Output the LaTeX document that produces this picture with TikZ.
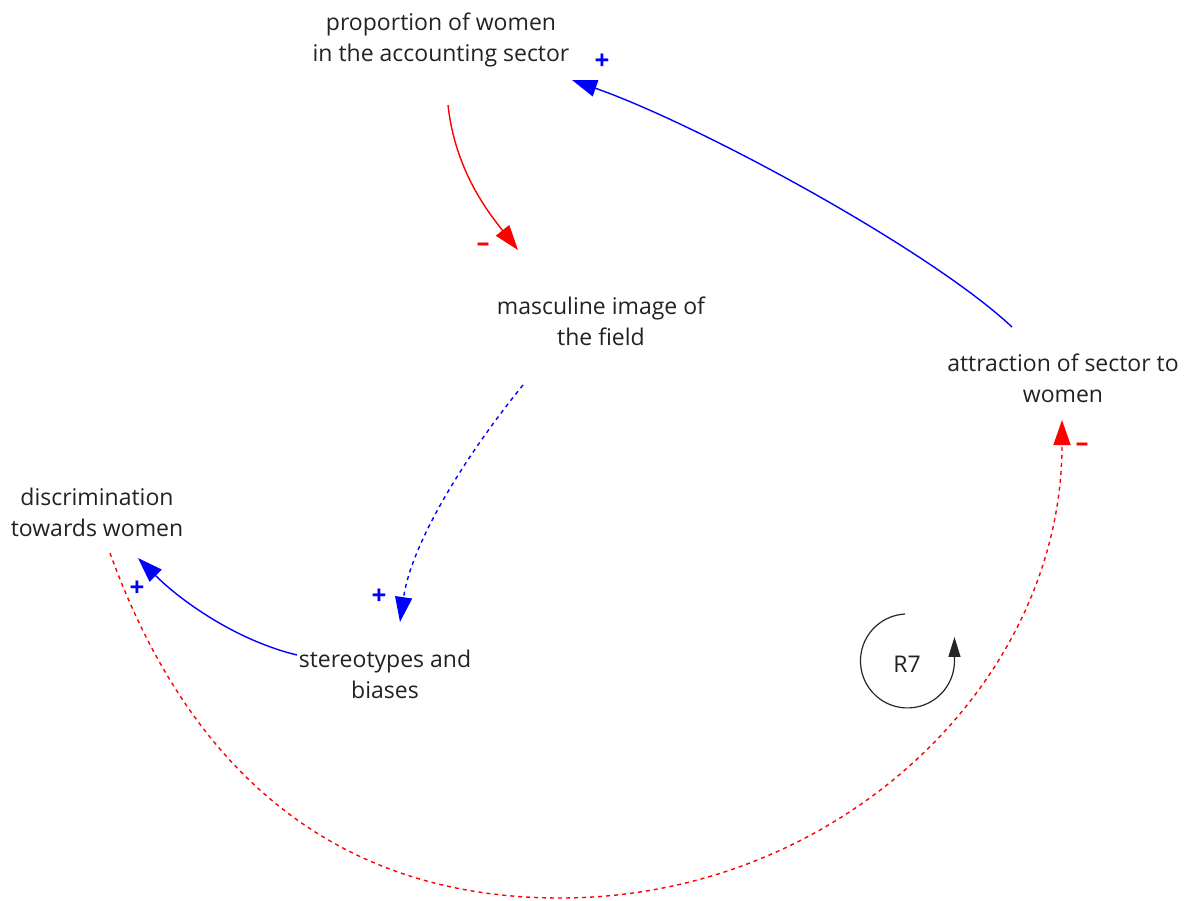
\documentclass[tikz,border=0pt]{standalone}
\usepackage{fontspec}
\setmainfont{Open Sans}
\usetikzlibrary{arrows.meta}
\definecolor{txt}{HTML}{222222}
\definecolor{pblue}{HTML}{0000FF}
\definecolor{pred}{HTML}{FF0000}
\tikzset{
  var/.style={align=center,text=txt,font=\fontsize{23}{31}\selectfont,inner sep=0pt},
  link/.style={line width=1.4pt,-{Triangle[length=25pt,width=17pt]}},
  poslink/.style={link,pblue},
  neglink/.style={link,pred},
  dashedlink/.style={dash pattern=on 4pt off 4pt},
  plussign/.style={text=pblue,font=\fontsize{26}{26}\selectfont\bfseries,inner sep=0pt},
  minussign/.style={text=pred,font=\fontsize{26}{26}\selectfont\bfseries,inner sep=0pt},
}
\begin{document}
\begin{tikzpicture}[x=1pt,y=-1pt]
\useasboundingbox (0,0) rectangle (1186,900);
\node[var] (prop) at (441,40) {proportion of women\\in the accounting sector};
\node[var] (masc) at (601,321) {masculine image of\\the field};
\node[var] (attr) at (1063,378) {attraction of sector to\\women};
\node[var] (disc) at (97,512) {discrimination\\towards women};
\node[var] (ster) at (385,674) {stereotypes and\\biases};
\node[var] (r7) at (907,664) {R7};

% proportion -> masculine
\draw[neglink] ([shift={(7,65)}]prop.center) .. controls (455,170) and (488,212) .. ([shift={(-83,-71)}]masc.center);
\node[minussign] (m1) at (483,247) {–};
% masculine -> stereotypes
\draw[poslink,dashedlink] ([shift={(-78,64)}]masc.center) .. controls (470,450) and (412,540) .. ([shift={(15,-52)}]ster.center);
\node[plussign] (p2) at (379,597) {+};
% stereotypes -> discrimination
\draw[poslink] ([shift={(-88,-19)}]ster.center) .. controls (235,640) and (180,600) .. ([shift={(41,46)}]disc.center);
\node[plussign] (p3) at (137,589) {+};
% discrimination -> attraction
\draw[neglink,dashedlink] ([shift={(13,41)}]disc.center) .. controls (178,741) and (310,898) .. (560,898) coordinate (bottom)
   .. controls (837,898) and (1062,684) .. ([shift={(-1,42)}]attr.center);
\node[minussign] (m4) at (1082,447) {–};
% attraction -> proportion
\draw[poslink] ([shift={(-51,-51)}]attr.center) .. controls (930,250) and (700,125) .. ([shift={(131,40)}]prop.center);
\node[plussign] (p5) at (602,62) {+};
% loop marker
\draw[line width=1.2pt,black!85,-{Triangle[length=20pt,width=12pt]}] ([shift={(-2,-50)}]r7.center) arc[start angle=93,end angle=360,radius=47pt] -- ++(0,-24);
\end{tikzpicture}
\end{document}
